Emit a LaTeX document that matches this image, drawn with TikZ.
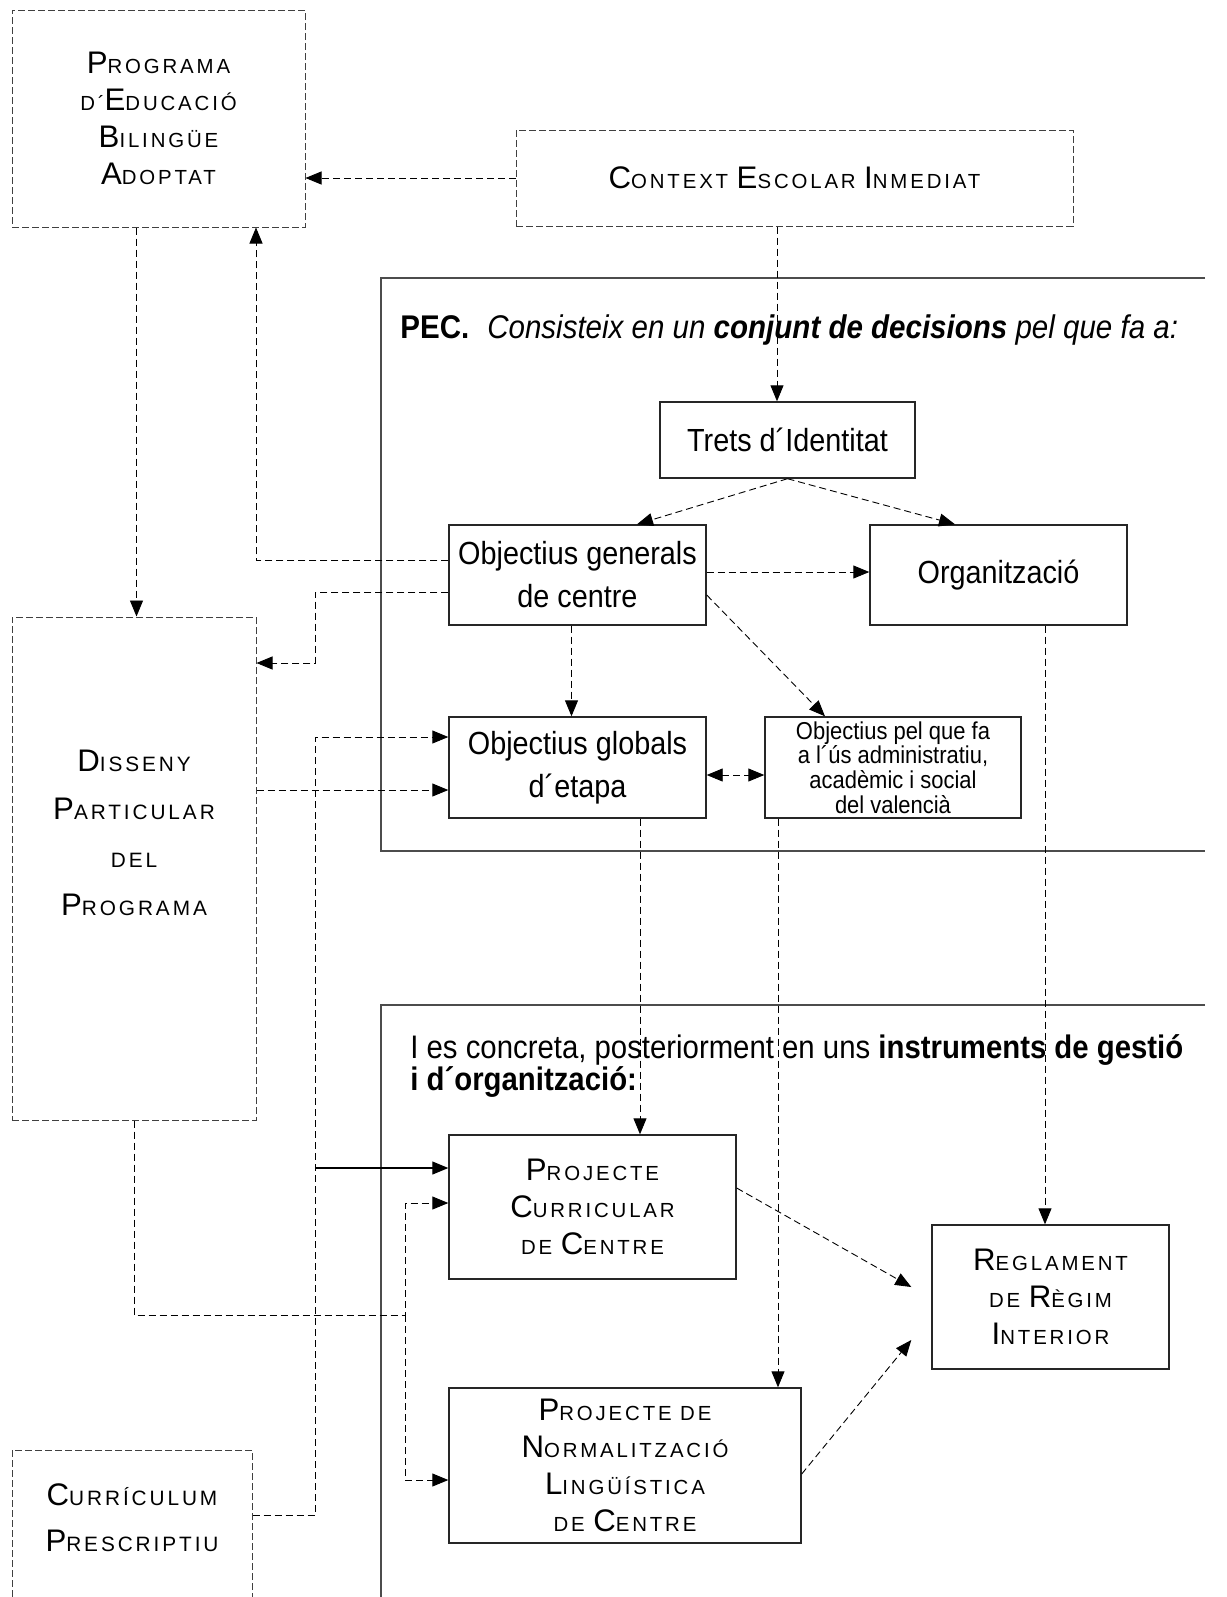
\documentclass[tikz,border=0pt]{standalone}
\usepackage{fontspec}
\setmainfont[FakeStretch=0.9]{Liberation Sans}
\newfontfamily\capfont[LetterSpace=14]{Liberation Sans}
\newcommand\capl[1]{{\fontsize{15.6}{18.5}\selectfont#1}}
\usepackage{tikz}
\usetikzlibrary{arrows.meta,positioning}

\begin{document}
\begin{tikzpicture}[
      x=0.5pt, y=-0.5pt,
      >={Triangle[length=8pt,width=6.5pt]},
      box/.style = {draw=black!85, line width=0.7pt, inner sep=1pt, align=center, font=\fontsize{16}{21.5}\selectfont},
      dbox/.style = {draw=black!75, line width=0.5pt, dash pattern=on 3.5pt off 1.5pt, inner sep=1pt, align=center},
      caps/.style = {font=\capfont\fontsize{10.2}{18.5}\selectfont, align=center},
      dline/.style = {->, line width=0.45pt, dash pattern=on 3.5pt off 2pt},
      sline/.style = {->, line width=0.6pt},
      frame/.style = {draw=black!70, line width=0.7pt}
      ]
    \useasboundingbox (0,0) rectangle (1227,1597);
    \clip (0,0) rectangle (1227,1597);

    \draw [frame] (1205,278) -- (381,278) -- (381,851) -- (1205,851);
    \draw [frame] (1205,1005) -- (381,1005) -- (381,1597);

    \node [dbox, caps, minimum width=146.5pt, minimum height=108.5pt] (prog) at (158.5,118.5)
      {\capl{P}ROGRAMA\\D´\capl{E}DUCACIÓ\\\capl{B}ILINGÜE\\\capl{A}DOPTAT};
    \node [dbox, caps, minimum width=278.5pt, minimum height=48pt] (ctx) at (794.5,178)
      {\capl{C}ONTEXT \capl{E}SCOLAR \capl{I}NMEDIAT};
    \node [anchor=west, inner sep=0, font=\fontsize{16.4}{20}\selectfont] (pec) at (400,330)
      {\textbf{PEC.}\hspace{9pt}\textit{Consisteix en un \textbf{conjunt de decisions} pel que fa a:}};
    \node [box, minimum width=127.5pt, minimum height=38pt] (trets) at (787.5,440) {Trets d´Identitat};
    \node [box, minimum width=128.5pt, minimum height=50pt] (ogc) at (577.5,575) {Objectius generals\\de centre};
    \node [box, minimum width=128.5pt, minimum height=50pt] (org) at (998.5,575) {Organització};
    \node [box, minimum width=128.5pt, minimum height=50.5pt] (oge) at (577.5,767.5) {Objectius globals\\d´etapa};
    \node [box, minimum width=128pt, minimum height=50.5pt, font=\fontsize{12.2}{12.3}\selectfont] (ous) at (893,767.5)
      {Objectius pel que fa\\a l´ús administratiu,\\acadèmic i social\\del valencià};
    \node [dbox, minimum width=122pt, minimum height=251.5pt] (dis) at (134,868.5) {};
    \node [caps, font=\capfont\fontsize{10.4}{24}\selectfont] (distxt) at (134,833)
      {\capl{D}ISSENY\\\capl{P}ARTICULAR\\DEL\\\capl{P}ROGRAMA};
    \node [anchor=west, align=left, inner sep=0, font=\fontsize{16.3}{16}\selectfont] (instr) at (410,1066)
      {I es concreta, posteriorment en uns \textbf{instruments de gestió}\\\textbf{i d´organització:}};
    \node [box, caps, minimum width=143.5pt, minimum height=72pt] (pcc) at (592.5,1207)
      {\capl{P}ROJECTE\\\capl{C}URRICULAR\\DE \capl{C}ENTRE};
    \node [box, caps, minimum width=118.5pt, minimum height=72pt] (reg) at (1050.5,1297)
      {\capl{R}EGLAMENT\\DE \capl{R}ÈGIM\\\capl{I}NTERIOR};
    \node [box, caps, minimum width=176pt, minimum height=77.5pt] (pnl) at (625,1465.5)
      {\capl{P}ROJECTE DE\\\capl{N}ORMALITZACIÓ\\\capl{L}INGÜÍSTICA\\DE \capl{C}ENTRE};
    \node [dbox, minimum width=120pt, minimum height=100pt] (curr) at (132,1550) {};
    \node [caps, font=\capfont\fontsize{10.4}{23}\selectfont] (currtxt) at (132,1518)
      {\capl{C}URRÍCULUM\\\capl{P}RESCRIPTIU};

    \coordinate (a1) at ([xshift=-5.25pt]trets.north);
    \coordinate (a2) at ([xshift=-11pt]prog.south);
    \coordinate (a3) at ([yshift=-11.25pt]oge.west);
    \coordinate (a4) at ([yshift=15.25pt]oge.west);
    \coordinate (a5) at ([yshift=19.5pt]pcc.west);
    \coordinate (a6) at ([xshift=31.25pt]oge.south);
    \coordinate (a7) at ([xshift=-57.5pt]ous.south);
    \coordinate (a8) at ([xshift=23.25pt]org.south);
    \coordinate (b1) at (315,663);
    \coordinate (b2) at (315,1515);
    \coordinate (b3) at (405,1315);

    \draw [dline] (ctx.west) -- (ctx.west -| prog.east);
    \draw [dline] (a1 |- ctx.south) -- (a1);
    \draw [dline] (trets.south) -- ([xshift=29.75pt]ogc.north);
    \draw [dline] (trets.south) -- ([xshift=-21.75pt]org.north);
    \draw [dline] ([yshift=1.5pt]ogc.east) -- ([yshift=1.5pt]org.west);
    \draw [dline] ([yshift=-10pt]ogc.east) -- ([xshift=-34pt]ous.north);
    \draw [dline] ([xshift=-3pt]ogc.south) -- ([xshift=-3pt]oge.north);
    \draw [dline, <->] ([yshift=-3.75pt]oge.east) -- ([yshift=-3.75pt]ous.west);
    \draw [dline] ([yshift=7.5pt]ogc.west) -| ([xshift=48.75pt]prog.south);
    \draw [dline] ([yshift=-8.5pt]ogc.west) -| (b1) -- (b1 -| dis.east);
    \draw [dline] (a2) -- (a2 |- dis.north);
    \draw [dline] (a3 -| dis.east) -- (a3);
    \draw [dline] (b2 -| curr.east) -- (b2) |- (a4);
    \draw [sline] (b2 |- a5) -- (a5);
    \draw [dline] (dis.south) |- (b3) |- ([yshift=2pt]pcc.west);
    \draw [dline] (b3) |- ([yshift=-7.25pt]pnl.west);
    \draw [dline] (a6) -- (a6 |- pcc.north);
    \draw [dline] (a7) -- (a7 |- pnl.north);
    \draw [dline] (a8) -- (a8 |- reg.north);
    \draw [dline] ([yshift=9.5pt]pcc.east) -- ([xshift=-10pt,yshift=5pt]reg.west);
    \draw [dline] ([yshift=-4.25pt]pnl.east) -- ([xshift=-10pt,yshift=-21.5pt]reg.west);
\end{tikzpicture}
\end{document}
